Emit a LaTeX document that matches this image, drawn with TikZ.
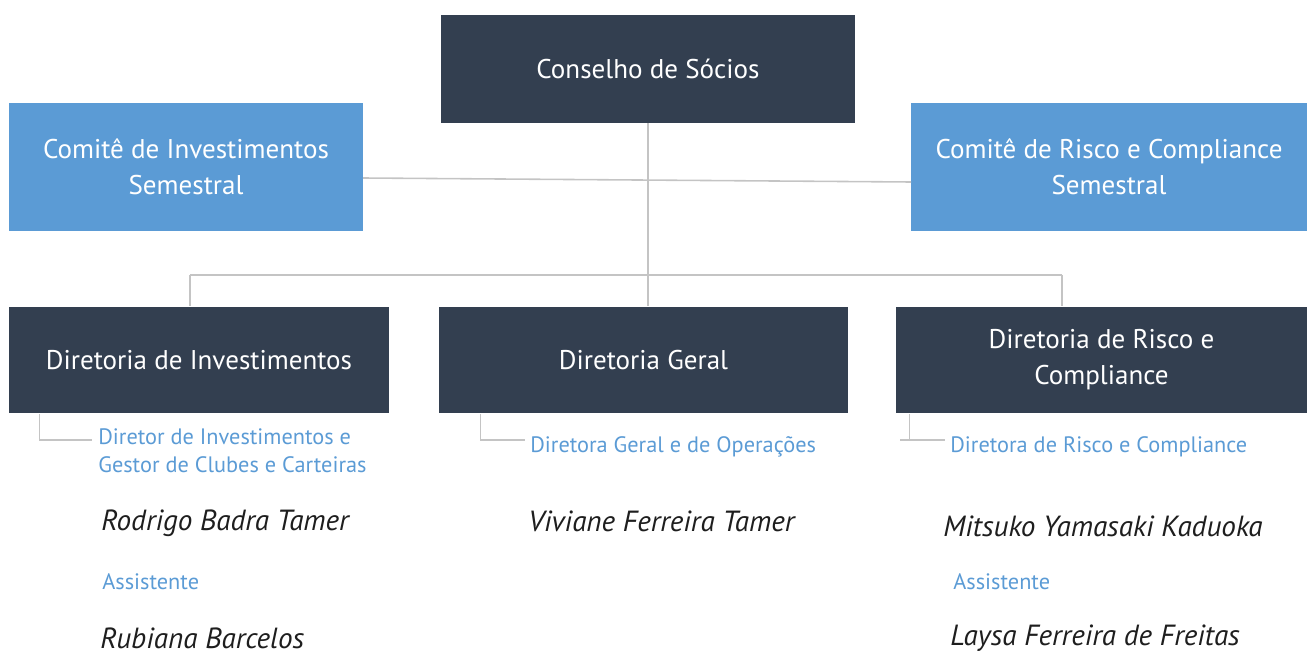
\documentclass[tikz,border=0pt]{standalone}
\usepackage{fontspec}
\setmainfont{PT Sans}

\definecolor{caixaescura}{RGB}{51,63,80}
\definecolor{caixaclara}{RGB}{91,155,213}
\definecolor{linhacinza}{RGB}{196,196,196}
\definecolor{nomepreto}{RGB}{30,30,30}

\begin{document}
\begin{tikzpicture}[x=0.02cm,y=-0.02cm]
\tikzset{escura/.style={fill=caixaescura,text=white,align=center,inner sep=0pt,
    font=\fontsize{15.4}{20.5}\selectfont}};
\tikzset{clara/.style={fill=caixaclara,text=white,align=center,inner sep=0pt,
    font=\fontsize{15.4}{20.5}\selectfont}};
\tikzset{ligacao/.style={draw=linhacinza,line width=0.9pt}};
\tikzset{cargo/.style={text=caixaclara,anchor=west,align=left,inner sep=0pt,
    font=\fontsize{12.7}{16}\selectfont}};
\tikzset{pessoa/.style={text=nomepreto,anchor=west,inner sep=0pt,
    font=\fontsize{16.6}{18}\selectfont\itshape}};

\useasboundingbox (0,0) rectangle (1312,655);

\node [escura, minimum width=8.28cm, minimum height=2.16cm] (conselho) at (648,69) {Conselho de Sócios};
\node [clara, minimum width=7.08cm, minimum height=2.56cm] (cominv) at (186,167) {Comitê de Investimentos\\Semestral};
\node [clara, minimum width=7.92cm, minimum height=2.56cm] (comrisco) at (1109,167) {Comitê de Risco e Compliance\\Semestral};

\node [escura, minimum width=7.6cm, minimum height=2.14cm] (dirinv) at (199,360) {Diretoria de Investimentos};
\node [escura, minimum width=8.18cm, minimum height=2.14cm] (dirgeral) at (643.5,360) {Diretoria Geral};
\node [escura, minimum width=8.22cm, minimum height=2.14cm] (dirrisco) at (1101.5,360) {Diretoria de Risco e\\Compliance};

\coordinate (barraesq) at (190,275);
\coordinate (barradir) at (1062,275);
\coordinate (comitesesq) at (363,178);
\coordinate (comitesdir) at (911,182);

\draw [ligacao] (conselho.south) -- (conselho.south |- dirgeral.north);
\draw [ligacao] (comitesesq) -- (comitesdir);
\draw [ligacao] (barraesq) -- (barradir);
\draw [ligacao] (barraesq) -- (barraesq |- dirinv.north);
\draw [ligacao] (barradir) -- (barradir |- dirrisco.north);

\node [cargo] (cargoinv) at (98,451) {Diretor de Investimentos e\\Gestor de Clubes e Carteiras};
\node [cargo] (cargogeral) at (530,447) {Diretora Geral e de Operações};
\node [cargo] (cargorisco) at (950,447) {Diretora de Risco e Compliance};

\coordinate (pontainv) at (92,440);
\coordinate (pontageral) at (525,440);
\coordinate (pontarisco) at (945,440);
\coordinate (inicioriscos) at (900,440);

\draw [ligacao] ([xshift=0.62cm]dirinv.south west) |- (pontainv);
\draw [ligacao] ([xshift=0.84cm]dirgeral.south west) |- (pontageral);
\draw [ligacao] ([xshift=0.28cm]dirrisco.south west) -- ([xshift=0.28cm]dirrisco.south west |- pontarisco);
\draw [ligacao] (inicioriscos) -- (pontarisco);

\node [pessoa] (rodrigo) at (101,523) {Rodrigo Badra Tamer};
\node [pessoa] (viviane) at (528,521) {Viviane Ferreira Tamer};
\node [pessoa] (mitsuko) at (943,526) {Mitsuko Yamasaki Kaduoka};
\node [cargo] (assistinv) at (102,582) {Assistente};
\node [cargo] (assistrisco) at (953,582) {Assistente};
\node [pessoa] (rubiana) at (100,638) {Rubiana Barcelos};
\node [pessoa] (laysa) at (950,638) {Laysa Ferreira de Freitas};
\end{tikzpicture}
\end{document}
